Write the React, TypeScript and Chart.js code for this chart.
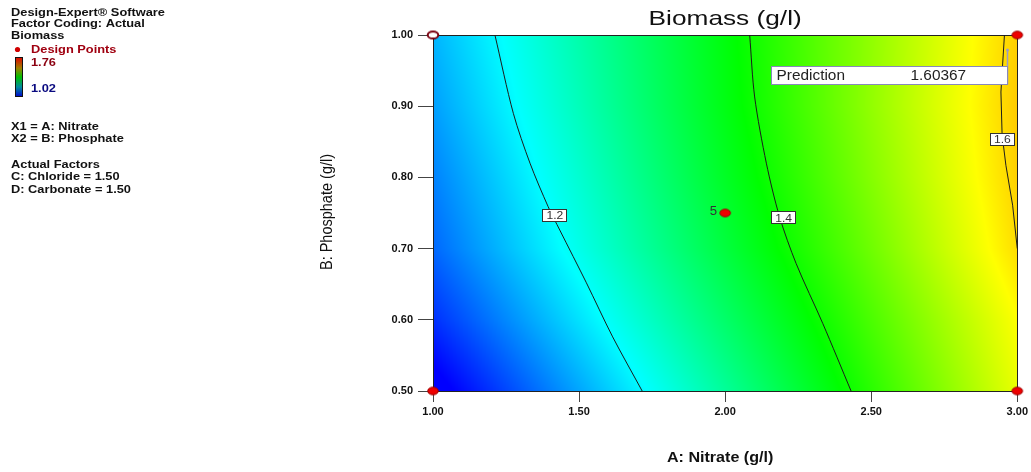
import React, { useEffect, useRef } from "react";
import { Chart, registerables } from "chart.js";
Chart.register(...registerables);

// ---------- axes ----------
const xTickValues = [1.0, 1.5, 2.0, 2.5, 3.0];
const xTickLabels = ["1.00", "1.50", "2.00", "2.50", "3.00"];
const yTickValues = [0.5, 0.6, 0.7, 0.8, 0.9, 1.0];
const yTickLabels = ["0.50", "0.60", "0.70", "0.80", "0.90", "1.00"];

// ---------- response surface (Biomass g/l) read at grid nodes ----------
const gridX = [1.0, 1.5, 2.0, 2.5, 3.0];
const gridY = [0.5, 0.6, 0.7, 0.8, 0.9, 1.0];
const biomassAtY050 = [1.0, 1.14, 1.279, 1.419, 1.559];
const biomassAtY060 = [1.054, 1.184, 1.314, 1.444, 1.574];
const biomassAtY070 = [1.095, 1.22, 1.345, 1.47, 1.6];
const biomassAtY080 = [1.114, 1.238, 1.363, 1.486, 1.609];
const biomassAtY090 = [1.135, 1.255, 1.376, 1.496, 1.613];
const biomassAtY100 = [1.151, 1.266, 1.381, 1.495, 1.61];

// colour scale 1.02 (blue) .. 1.76 (red)
const colorStopValues = [1.02, 1.205, 1.39, 1.575, 1.76];
const colorStopRGB = [
  [0, 0, 255],
  [0, 255, 255],
  [0, 255, 0],
  [255, 255, 0],
  [255, 0, 0],
];

// ---------- contour lines ----------
const contour12X = [1.212, 1.275, 1.332, 1.394, 1.434, 1.525, 1.615, 1.716];
const contour12Y = [1.0, 0.89, 0.82, 0.759, 0.726, 0.652, 0.576, 0.5];
const contour14X = [2.084, 2.101, 2.141, 2.186, 2.243, 2.334, 2.431];
const contour14Y = [1.0, 0.913, 0.82, 0.745, 0.679, 0.595, 0.5];
const contour16X = [2.956, 2.944, 2.948, 2.961, 2.984, 3.0];
const contour16Y = [1.0, 0.92, 0.86, 0.817, 0.761, 0.7];

const contourLabelText = ["1.2", "1.4", "1.6"];
const contourLabelX = [1.417, 2.2, 2.949];
const contourLabelY = [0.7465, 0.743, 0.853];

// ---------- design points ----------
const designX = [1.0, 3.0, 3.0, 2.0];
const designY = [0.5, 0.5, 1.0, 0.75];
const openDesignX = [1.0];
const openDesignY = [1.0];
const centerPointCount = "5";

// ---------- prediction flag ----------
const predictionX = 2.966;
const predictionY = 0.979;
const predictionLabel = "Prediction";
const predictionValue = "1.60367";

// ---------- side legend ----------
const legendHeader = ["Design-Expert® Software", "Factor Coding: Actual", "Biomass"];
const legendHigh = "1.76";
const legendLow = "1.02";
const legendFactors = ["X1 = A: Nitrate", "X2 = B: Phosphate"];
const legendActual = ["Actual Factors", "C: Chloride = 1.50", "D: Carbonate = 1.50"];

const biomassRows = [biomassAtY050, biomassAtY060, biomassAtY070, biomassAtY080, biomassAtY090, biomassAtY100];

function sampleSurface(xv: number, yv: number): number {
  const cx = Math.min(Math.max(xv, gridX[0]), gridX[gridX.length - 1]);
  const cy = Math.min(Math.max(yv, gridY[0]), gridY[gridY.length - 1]);
  let i = 0;
  while (i < gridX.length - 2 && cx > gridX[i + 1]) i++;
  let j = 0;
  while (j < gridY.length - 2 && cy > gridY[j + 1]) j++;
  const tx = (cx - gridX[i]) / (gridX[i + 1] - gridX[i]);
  const ty = (cy - gridY[j]) / (gridY[j + 1] - gridY[j]);
  const a = biomassRows[j][i] * (1 - tx) + biomassRows[j][i + 1] * tx;
  const b = biomassRows[j + 1][i] * (1 - tx) + biomassRows[j + 1][i + 1] * tx;
  return a * (1 - ty) + b * ty;
}

function colorFor(v: number): number[] {
  if (v <= colorStopValues[0]) return colorStopRGB[0];
  const n = colorStopValues.length;
  if (v >= colorStopValues[n - 1]) return colorStopRGB[n - 1];
  let k = 0;
  while (k < n - 2 && v > colorStopValues[k + 1]) k++;
  const t = (v - colorStopValues[k]) / (colorStopValues[k + 1] - colorStopValues[k]);
  const c0 = colorStopRGB[k];
  const c1 = colorStopRGB[k + 1];
  return [c0[0] + (c1[0] - c0[0]) * t, c0[1] + (c1[1] - c0[1]) * t, c0[2] + (c1[2] - c0[2]) * t];
}

function makeEllipse(fill: string, stroke: string, rx: number, ry: number, lw: number) {
  const c = document.createElement("canvas");
  c.width = Math.ceil(rx * 2 + lw * 2 + 1);
  c.height = Math.ceil(ry * 2 + lw * 2 + 1);
  const g = c.getContext("2d")!;
  g.beginPath();
  g.ellipse(c.width / 2, c.height / 2, rx, ry, 0, 0, Math.PI * 2);
  g.fillStyle = fill;
  g.fill();
  g.lineWidth = lw;
  g.strokeStyle = stroke;
  g.stroke();
  return c;
}

const FONT = '"Liberation Sans", Arial, sans-serif';

function sText(
  ctx: CanvasRenderingContext2D,
  text: string,
  x: number,
  y: number,
  font: string,
  color: string,
  sx: number,
  align: CanvasTextAlign = "left"
) {
  ctx.save();
  ctx.font = font;
  ctx.fillStyle = color;
  ctx.textAlign = align;
  ctx.textBaseline = "middle";
  ctx.translate(x, y);
  ctx.scale(sx, 1);
  ctx.fillText(text, 0, 0);
  ctx.restore();
}

const fieldPlugin = {
  id: "responseField",
  beforeDatasetsDraw(chart: any) {
    const { ctx, chartArea: a, scales } = chart;
    const xs = scales.x;
    const ys = scales.y;
    const w = Math.round(a.right - a.left);
    const h = Math.round(a.bottom - a.top);
    const off = document.createElement("canvas");
    off.width = w;
    off.height = h;
    const octx = off.getContext("2d")!;
    const img = octx.createImageData(w, h);
    for (let j = 0; j < h; j++) {
      const yv = ys.getValueForPixel(a.top + j + 0.5);
      for (let i = 0; i < w; i++) {
        const xv = xs.getValueForPixel(a.left + i + 0.5);
        const c = colorFor(sampleSurface(xv, yv));
        const p = (j * w + i) * 4;
        img.data[p] = c[0];
        img.data[p + 1] = c[1];
        img.data[p + 2] = c[2];
        img.data[p + 3] = 255;
      }
    }
    octx.putImageData(img, 0, 0);
    ctx.drawImage(off, a.left, a.top);
    ctx.save();
    ctx.strokeStyle = "#222";
    ctx.lineWidth = 1;
    ctx.strokeRect(Math.round(a.left) + 0.5, Math.round(a.top) + 0.5, w, h);
    ctx.restore();
  },
  afterDatasetsDraw(chart: any) {
    const { ctx, scales } = chart;
    const xs = scales.x;
    const ys = scales.y;
    // contour labels
    contourLabelText.forEach((t, k) => {
      const px = xs.getPixelForValue(contourLabelX[k]);
      const py = ys.getPixelForValue(contourLabelY[k]);
      const bw = 25;
      const bh = 13;
      ctx.save();
      ctx.fillStyle = "#ffffff";
      ctx.fillRect(Math.round(px - bw / 2), Math.round(py - bh / 2), bw, bh);
      ctx.strokeStyle = "#333";
      ctx.lineWidth = 1;
      ctx.strokeRect(Math.round(px - bw / 2) + 0.5, Math.round(py - bh / 2) + 0.5, bw - 1, bh - 1);
      ctx.restore();
      sText(ctx, t, px, py + 0.5, `11px ${FONT}`, "#333", 1.1, "center");
    });
    // center point count
    const cpx = xs.getPixelForValue(designX[3]);
    const cpy = ys.getPixelForValue(designY[3]);
    sText(ctx, centerPointCount, cpx - 8, cpy - 1, `12px ${FONT}`, "#333", 1.1, "right");
    // prediction flag
    const fx = Math.round(xs.getPixelForValue(predictionX)) + 0.5;
    const fy = ys.getPixelForValue(predictionY);
    const boxTop = Math.round(fy + 16) + 0.5;
    const boxH = 18;
    const boxW = 236;
    ctx.save();
    ctx.strokeStyle = "#9a9ac8";
    ctx.lineWidth = 1.5;
    ctx.beginPath();
    ctx.moveTo(fx, fy);
    ctx.lineTo(fx, boxTop + boxH);
    ctx.stroke();
    ctx.fillStyle = "#9a9ac8";
    ctx.beginPath();
    ctx.arc(fx, fy, 1.5, 0, Math.PI * 2);
    ctx.fill();
    ctx.fillStyle = "#ffffff";
    ctx.fillRect(fx - boxW, boxTop, boxW, boxH);
    ctx.strokeStyle = "#8888bb";
    ctx.lineWidth = 1;
    ctx.strokeRect(fx - boxW, boxTop, boxW, boxH);
    ctx.restore();
    sText(ctx, predictionLabel, fx - boxW + 5, boxTop + boxH / 2 + 0.5, `14px ${FONT}`, "#222", 1.1, "left");
    sText(ctx, predictionValue, fx - boxW + 139, boxTop + boxH / 2 + 0.5, `14px ${FONT}`, "#222", 1.1, "left");
  },
  afterDraw(chart: any) {
    const { ctx, chartArea: a } = chart;
    const cx = (a.left + a.right) / 2;
    // title
    sText(ctx, "Biomass (g/l)", cx, 19, `21px ${FONT}`, "#111", 1.25, "center");
    // x title
    sText(ctx, "A: Nitrate (g/l)", cx - 5, 458, `bold 14px ${FONT}`, "#111", 1.15, "center");
    // y title
    ctx.save();
    ctx.translate(327, (a.top + a.bottom) / 2 - 1);
    ctx.rotate(-Math.PI / 2);
    ctx.font = `14.5px ${FONT}`;
    ctx.fillStyle = "#111";
    ctx.textAlign = "center";
    ctx.textBaseline = "middle";
    ctx.scale(1, 1.15);
    ctx.fillText("B: Phosphate (g/l)", 0, 0);
    ctx.restore();

    // side legend
    const lf = `bold 10.5px ${FONT}`;
    const sx = 1.22;
    legendHeader.forEach((t, i) => sText(ctx, t, 11, 13 + i * 11.6, lf, "#111", sx));
    ctx.save();
    ctx.fillStyle = "#d00000";
    ctx.beginPath();
    ctx.arc(17.5, 49.5, 2.6, 0, Math.PI * 2);
    ctx.fill();
    ctx.restore();
    sText(ctx, "Design Points", 31, 50, lf, "#a00010", sx);
    const grad = ctx.createLinearGradient(0, 57, 0, 97);
    grad.addColorStop(0, "#e00000");
    grad.addColorStop(0.28, "#a08000");
    grad.addColorStop(0.5, "#00c000");
    grad.addColorStop(0.75, "#008c9c");
    grad.addColorStop(1, "#0000d0");
    ctx.save();
    ctx.fillStyle = grad;
    ctx.fillRect(15, 57, 8, 40);
    ctx.strokeStyle = "#111";
    ctx.lineWidth = 1;
    ctx.strokeRect(15.5, 57.5, 7, 39);
    ctx.restore();
    sText(ctx, legendHigh, 31, 63, lf, "#8b0010", sx);
    sText(ctx, legendLow, 31, 89, lf, "#0a0a80", sx);
    legendFactors.forEach((t, i) => sText(ctx, t, 11, 127 + i * 12, lf, "#111", sx));
    legendActual.forEach((t, i) => sText(ctx, t, 11, 165 + i * 12.6, lf, "#111", sx));
  },
};

export default function App() {
  const ref = useRef<HTMLCanvasElement | null>(null);
  useEffect(() => {
    if (!ref.current) return;
    const redDot = makeEllipse("#ee0000", "#990000", 5.3, 3.8, 1);
    const openDot = makeEllipse("#ffffff", "#7a0010", 5.3, 3.6, 2);
    const line = (xs: number[], ys: number[], tension: number) => ({
      type: "scatter" as const,
      data: xs.map((x, i) => ({ x, y: ys[i] })),
      showLine: true,
      borderColor: "#1c1c1c",
      borderWidth: 1,
      pointRadius: 0,
      tension,
      order: 5,
    });
    const chart = new Chart(ref.current, {
      type: "scatter",
      data: {
        datasets: [
          line(contour12X, contour12Y, 0.3),
          line(contour14X, contour14Y, 0.3),
          line(contour16X, contour16Y, 0),
          {
            data: designX.map((x, i) => ({ x, y: designY[i] })),
            pointStyle: redDot as any,
            pointRadius: 6,
            clip: false as any,
            order: 1,
          },
          {
            data: openDesignX.map((x, i) => ({ x, y: openDesignY[i] })),
            pointStyle: openDot as any,
            pointRadius: 6,
            clip: false as any,
            order: 1,
          },
        ] as any,
      },
      options: {
        responsive: false,
        animation: false,
        events: [],
        layout: { padding: { left: 0, top: 35, right: 13, bottom: 0 } },
        plugins: { legend: { display: false }, tooltip: { enabled: false }, title: { display: false } },
        scales: {
          x: {
            type: "linear",
            min: 1,
            max: 3,
            afterBuildTicks: (s: any) => {
              s.ticks = xTickValues.map((v) => ({ value: v }));
            },
            afterFit: (s: any) => {
              s.height = 81;
            },
            ticks: {
              callback: (_v: any, i: number) => xTickLabels[i],
              font: { family: FONT, size: 11, weight: "bold" },
              color: "#111",
              padding: 3,
              maxRotation: 0,
            },
            grid: { drawOnChartArea: false, drawTicks: true, tickLength: 11, color: "#444", lineWidth: 1 },
            border: { display: true, color: "#222" },
          },
          y: {
            type: "linear",
            min: 0.5,
            max: 1,
            afterBuildTicks: (s: any) => {
              s.ticks = yTickValues.map((v) => ({ value: v }));
            },
            afterFit: (s: any) => {
              s.width = 433;
            },
            ticks: {
              callback: (_v: any, i: number) => yTickLabels[i],
              font: { family: FONT, size: 11, weight: "bold" },
              color: "#111",
              padding: 5,
            },
            grid: { drawOnChartArea: false, drawTicks: true, tickLength: 15, color: "#444", lineWidth: 1 },
            border: { display: true, color: "#222" },
          },
        },
      } as any,
      plugins: [fieldPlugin],
    });
    return () => chart.destroy();
  }, []);
  return (
    <div style={{ position: "fixed", left: 0, top: 0, width: 1031, height: 472, background: "#fff" }}>
      <canvas ref={ref} width={1031} height={472} style={{ display: "block", width: 1031, height: 472 }} />
    </div>
  );
}
